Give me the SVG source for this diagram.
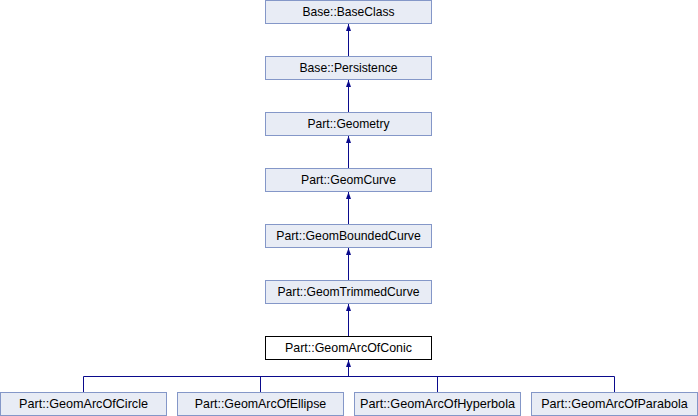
<svg xmlns="http://www.w3.org/2000/svg" width="698" height="416" viewBox="0 0 698 416">
<style>
.n rect{fill:#E8ECF5;stroke:#8497C8;stroke-width:1}
.n.cur rect{fill:#FFFFFF;stroke:#000000}
text{font-family:"Liberation Sans",Arial,sans-serif;font-size:12.4px;fill:#000000;text-anchor:middle}
.e{stroke:#0A0A8C;stroke-width:1;fill:none}
.h{fill:#0A0A8C}
</style>
<rect width="698" height="416" fill="#FFFFFF"/>
<g id="connectors">
<path class="e" d="M348.5,24 V57"/>
<path class="e" d="M348.5,80 V113"/>
<path class="e" d="M348.5,136 V169"/>
<path class="e" d="M348.5,192 V225"/>
<path class="e" d="M348.5,248 V281"/>
<path class="e" d="M348.5,304 V337"/>
<path class="e" d="M348.5,360 V376.5"/>
<path class="e" d="M83.5,392.5 V376.5 H614.5 V392.5"/>
<path class="e" d="M260.5,376.5 V392.5"/>
<path class="e" d="M437.5,376.5 V392.5"/>
<path class="h" d="M346,31 L348.5,24 L351,31 Z"/>
<path class="h" d="M346,87 L348.5,80 L351,87 Z"/>
<path class="h" d="M346,143 L348.5,136 L351,143 Z"/>
<path class="h" d="M346,199 L348.5,192 L351,199 Z"/>
<path class="h" d="M346,255 L348.5,248 L351,255 Z"/>
<path class="h" d="M346,311 L348.5,304 L351,311 Z"/>
<path class="h" d="M346,367 L348.5,360 L351,367 Z"/>
</g>
<g id="n_baseclass" class="n"><rect x="265.5" y="0.5" width="166" height="23"/><text x="348.5" y="15.5" textLength="92" lengthAdjust="spacingAndGlyphs">Base::BaseClass</text></g>
<g id="n_persistence" class="n"><rect x="265.5" y="56.5" width="166" height="23"/><text x="348.5" y="71.5" textLength="98" lengthAdjust="spacingAndGlyphs">Base::Persistence</text></g>
<g id="n_geometry" class="n"><rect x="265.5" y="112.5" width="166" height="23"/><text x="348.5" y="127.5" textLength="82" lengthAdjust="spacingAndGlyphs">Part::Geometry</text></g>
<g id="n_geomcurve" class="n"><rect x="265.5" y="168.5" width="166" height="23"/><text x="348.5" y="183.5" textLength="95" lengthAdjust="spacingAndGlyphs">Part::GeomCurve</text></g>
<g id="n_geomboundedcurve" class="n"><rect x="265.5" y="224.5" width="166" height="23"/><text x="348.5" y="239.5" textLength="144.5" lengthAdjust="spacingAndGlyphs">Part::GeomBoundedCurve</text></g>
<g id="n_geomtrimmedcurve" class="n"><rect x="265.5" y="280.5" width="166" height="23"/><text x="348.5" y="295.5" textLength="142" lengthAdjust="spacingAndGlyphs">Part::GeomTrimmedCurve</text></g>
<g id="n_geomarcofconic" class="n cur"><rect x="265.5" y="336.5" width="166" height="23"/><text x="348.5" y="351.5" textLength="127" lengthAdjust="spacingAndGlyphs">Part::GeomArcOfConic</text></g>
<g id="n_circle" class="n"><rect x="0.5" y="392.5" width="166" height="23"/><text x="83.5" y="407.5" textLength="129" lengthAdjust="spacingAndGlyphs">Part::GeomArcOfCircle</text></g>
<g id="n_ellipse" class="n"><rect x="177.5" y="392.5" width="166" height="23"/><text x="260.5" y="407.5" textLength="131.5" lengthAdjust="spacingAndGlyphs">Part::GeomArcOfEllipse</text></g>
<g id="n_hyperbola" class="n"><rect x="354.5" y="392.5" width="166" height="23"/><text x="437.5" y="407.5" textLength="155" lengthAdjust="spacingAndGlyphs">Part::GeomArcOfHyperbola</text></g>
<g id="n_parabola" class="n"><rect x="531.5" y="392.5" width="166" height="23"/><text x="614.5" y="407.5" textLength="146.5" lengthAdjust="spacingAndGlyphs">Part::GeomArcOfParabola</text></g>
</svg>
